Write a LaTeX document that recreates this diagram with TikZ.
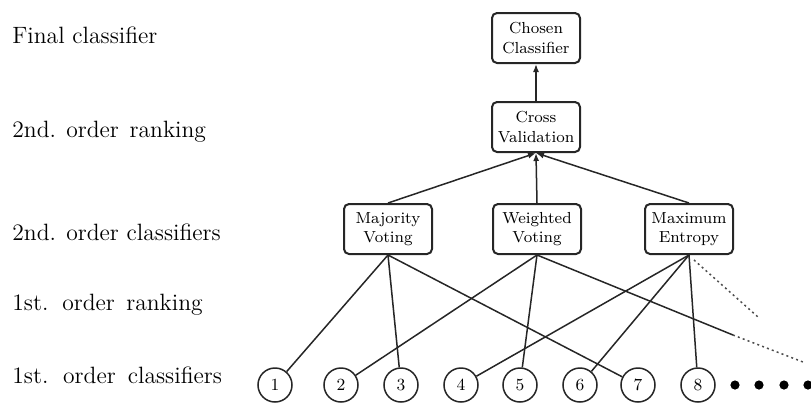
\documentclass[tikz,border=0pt]{standalone}
\usetikzlibrary{arrows.meta}
\begin{document}
\begin{tikzpicture}[x=0.5pt,y=-0.5pt,
  box/.style={draw=black!85,line width=1pt,rounded corners=2.5pt,minimum width=44pt,minimum height=25pt,
    inner sep=0pt,align=center,font=\fontsize{8}{9.8}\selectfont},
  clf/.style={draw=black!85,circle,line width=0.75pt,minimum size=17pt,inner sep=0pt,font=\fontsize{8.5}{10}\selectfont},
  dotn/.style={fill,circle,minimum size=4.6pt,inner sep=0pt},
  lab/.style={anchor=base west,font=\fontsize{11.8}{14}\selectfont,inner sep=0pt},
  edge/.style={line width=0.75pt,draw=black!85},
  arr/.style={edge,-{Latex[length=4pt,width=3pt]}},
  dots/.style={line width=0.75pt,draw=black!70,dash pattern=on 1pt off 1.6pt}]
\useasboundingbox (0,0) rectangle (811,404);
% left labels
\node[lab] (l1) at (12,43) {Final classifier};
\node[lab] (l2) at (12,137) {2nd. order \hspace{1.5pt}ranking};
\node[lab] (l3) at (12,240) {2nd. order classifiers};
\node[lab] (l4) at (12,310) {1st. \hspace{1.8pt}order \hspace{1.8pt}ranking};
\node[lab] (l5) at (12,383) {1st. \hspace{2.2pt}order \hspace{2.2pt}classifiers};
% boxes
\node[box] (ch) at (536,38) {Chosen\\Classifier};
\node[box] (cv) at (536,127) {Cross\\Validation};
\node[box] (mj) at (388,229) {Majority\\Voting};
\node[box] (wv) at (537,229) {Weighted\\Voting};
\node[box] (me) at (689,229) {Maximum\\Entropy};
% first order classifiers
\node[clf] (c1) at (275,385) {1};
\node[clf] (c2) at (341,385) {2};
\node[clf] (c3) at (401,385) {3};
\node[clf] (c4) at (461,385) {4};
\node[clf] (c5) at (520,385) {5};
\node[clf] (c6) at (580,385) {6};
\node[clf] (c7) at (638,385) {7};
\node[clf] (c8) at (698,385) {8};
\node[dotn] (d1) at (735,385) {};
\node[dotn] (d2) at (759,385) {};
\node[dotn] (d3) at (784,385) {};
\node[dotn] (d4) at (808,385) {};
% arrows up
\draw[arr] (cv) -- (ch);
\draw[arr] (mj.north) -- (cv.south);
\draw[arr] (wv.north) -- (cv.south);
\draw[arr] (me.north) -- (cv.south);
% lines down
\draw[edge] (mj.south) -- (c1);
\draw[edge] (mj.south) -- (c3);
\draw[edge] (mj.south) -- (c7);
\draw[edge] (wv.south) -- (c2);
\draw[edge] (wv.south) -- (c5);
\draw[edge] (me.south) -- (c4);
\draw[edge] (me.south) -- (c6);
\draw[edge] (me.south) -- (c8);
\coordinate (wend) at (733,335);
\coordinate (wdot) at (803,362);
\coordinate (mdot) at (758,317);
\draw[edge] (wv.south) -- (wend);
\draw[dots] (wend) -- (wdot);
\draw[dots] (me.south) ++(5,5) coordinate (mstart) (mstart) -- (mdot);
\end{tikzpicture}
\end{document}
